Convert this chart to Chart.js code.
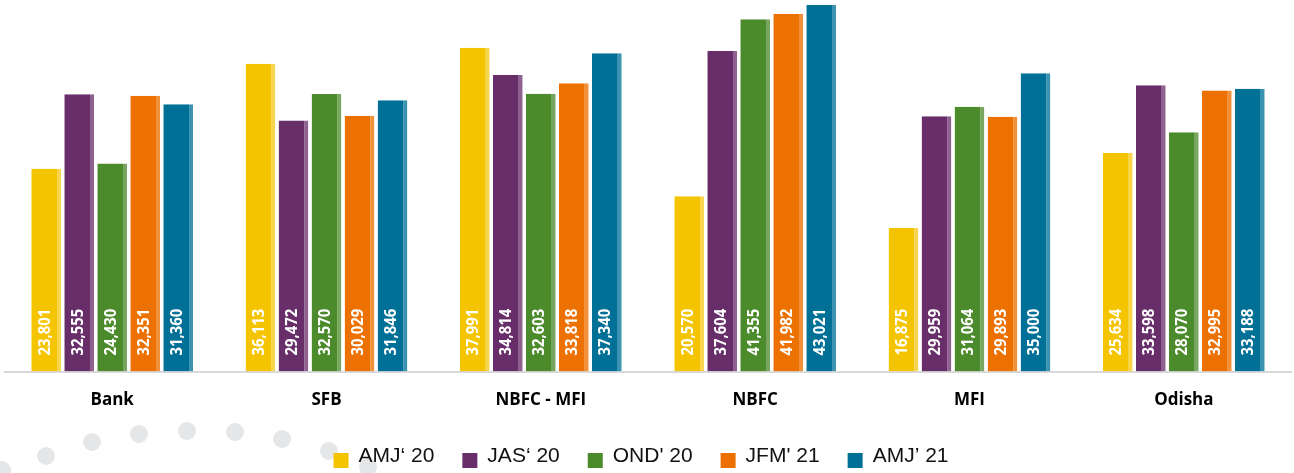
<!DOCTYPE html>
<html>
<head>
<meta charset="utf-8">
<script src="https://cdn.jsdelivr.net/npm/chart.js@4/dist/chart.umd.min.js"></script>
<style>
  html, body { margin: 0; padding: 0; background: #fff; }
  #wrap { width: 1294px; height: 473px; position: relative; }
</style>
</head>
<body>
<div id="wrap"><canvas id="ticketChart"></canvas></div>
<script>
const categories = ['Bank', 'SFB', 'NBFC - MFI', 'NBFC', 'MFI', 'Odisha'];

const seriesNames = ['AMJ\u2018 20', 'JAS\u2018 20', "OND' 20", "JFM' 21", 'AMJ\u2019 21'];

const amj20 = [23801, 36113, 37991, 20570, 16875, 25634];
const jas20 = [32555, 29472, 34814, 37604, 29959, 33598];
const ond20 = [24430, 32570, 32603, 41355, 31064, 28070];
const jfm21 = [32351, 30029, 33818, 41982, 29893, 32995];
const amj21 = [31360, 31846, 37340, 43021, 35000, 33188];

const fillColors = ['#f5c400', '#682e6a', '#4c8b2b', '#ec7100', '#007096'];
const edgeColors = ['#f8d54e', '#8f6190', '#78a55f', '#f0913a', '#3a93b0'];

// grey dots in the bottom-left corner (decoration only)
const dots = [[2, 470], [46, 456], [92, 442], [139, 434], [187, 431], [235, 432], [282, 439], [329, 451], [368, 467]];

const dotsPlugin = {
    id: 'dots',
    beforeDraw(chart) {
        const c = chart.ctx;
        c.save();
        c.fillStyle = '#e5e6e7';
        dots.forEach(d => {
            c.beginPath();
            c.arc(d[0], d[1], 9, 0, Math.PI * 2);
            c.fill();
        });
        c.restore();
    }
};

// white rotated values inside the bars
const valueLabels = {
    id: 'valueLabels',
    afterDatasetsDraw(chart) {
        const c = chart.ctx;
        const zero = chart.scales.y.getPixelForValue(0);
        c.save();
        c.fillStyle = '#fff';
        c.font = 'bold 16px "Open Sans", sans-serif';
        c.textAlign = 'left';
        c.textBaseline = 'middle';
        chart.data.datasets.forEach((ds, i) => {
            chart.getDatasetMeta(i).data.forEach((bar, j) => {
                const txt = ds.data[j].toLocaleString('en-US');
                c.save();
                c.translate(bar.x - 1, zero - 16);
                c.rotate(-Math.PI / 2);
                c.scale(0.93, 1);
                c.fillText(txt, 0, 0);
                c.restore();
            });
        });
        c.restore();
    }
};

// legend drawn by hand: square boxes sitting on the text baseline
const bottomLegend = {
    id: 'bottomLegend',
    afterDraw(chart) {
        const c = chart.ctx;
        const gap = 10, itemGap = 28, box = 15;
        c.save();
        c.font = '21px "Liberation Sans", Arial, sans-serif';
        c.textBaseline = 'alphabetic';
        c.textAlign = 'left';
        const items = chart.data.datasets.map(ds => ({
            text: ds.label,
            color: ds.backgroundColor,
            w: box + gap + c.measureText(ds.label).width
        }));
        const total = items.reduce((s, it) => s + it.w, 0) + itemGap * (items.length - 1);
        let x = 641 - total / 2;
        items.forEach(it => {
            c.fillStyle = it.color;
            c.fillRect(x, 453, box, box);
            c.fillStyle = '#111';
            c.fillText(it.text, x + box + gap, 462);
            x += it.w + itemGap;
        });
        c.restore();
    }
};

const allSeries = [amj20, jas20, ond20, jfm21, amj21];

const ctx = document.getElementById('ticketChart').getContext('2d');
const ticketChart = new Chart(ctx, {
    type: 'bar',
    data: {
        labels: categories,
        datasets: allSeries.map((vals, i) => ({
            label: seriesNames[i],
            data: vals,
            backgroundColor: fillColors[i],
            borderColor: edgeColors[i],
            borderWidth: { top: 0, left: 0, bottom: 0, right: 4 },
            borderSkipped: false,
            categoryPercentage: 0.77,
            barPercentage: 0.9
        }))
    },
    options: {
        responsive: true,
        maintainAspectRatio: false,
        animation: false,
        layout: { padding: { left: 5, right: 3, top: 0, bottom: 53 } },
        scales: {
            x: {
                grid: { display: false },
                border: { display: true, color: '#d9d9d9', width: 2 },
                ticks: {
                    color: '#000',
                    padding: 10,
                    font: { family: '"Open Sans", sans-serif', size: 17, weight: 'bold' }
                }
            },
            y: {
                display: false,
                min: 0,
                max: 43600
            }
        },
        plugins: {
            legend: { display: false },
            tooltip: { enabled: false }
        }
    },
    plugins: [dotsPlugin, valueLabels, bottomLegend]
});
</script>
</body>
</html>
